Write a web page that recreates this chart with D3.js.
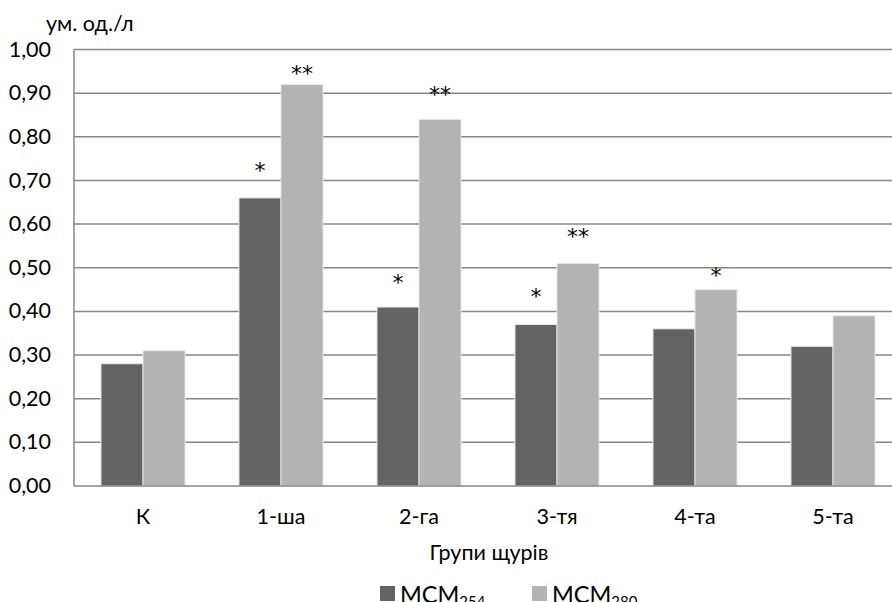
<!DOCTYPE html>
<html>
<head>
<meta charset="utf-8">
<script src="https://cdn.jsdelivr.net/npm/d3@7"></script>
<style>
  body { margin: 0; background: #fff; }
  text { font-family: Lato, "Noto Sans", sans-serif; fill: #000; }
</style>
</head>
<body>
<script>
// groups of rats and the two measured series
const groups = ["К", "1-ша", "2-га", "3-тя", "4-та", "5-та"];
const series = ["254", "280"];
const msm254 = [0.28, 0.66, 0.41, 0.37, 0.36, 0.32];
const msm280 = [0.31, 0.92, 0.84, 0.51, 0.45, 0.39];
const yTicks = [0, 0.1, 0.2, 0.3, 0.4, 0.5, 0.6, 0.7, 0.8, 0.9, 1.0];
// significance marks: group, series, text, level (value where the mark sits)
const marks = [
    ["1-ша", "254", "*", 0.733],
    ["1-ша", "280", "**", 0.955],
    ["2-га", "254", "*", 0.476],
    ["2-га", "280", "**", 0.907],
    ["3-тя", "254", "*", 0.444],
    ["3-тя", "280", "**", 0.583],
    ["4-та", "280", "*", 0.4925]
];
const colors = {"254": "#636363", "280": "#b3b3b3"};

const width = 892, height = 602;
const fs = 21.5;
const svg = d3.select("body").append("svg")
    .attr("width", width).attr("height", height);

const x = d3.scaleBand().domain(groups).range([74, 902])
    .paddingInner(0.391).paddingOuter(0.1955);
const xs = d3.scaleBand().domain(series).range([0, x.bandwidth()]);
const y = d3.scaleLinear().domain([0, 1]).range([486, 49.5]);

// grid
svg.append("g").selectAll("line")
    .data(yTicks.slice(1)).enter().append("line")
    .attr("x1", 74).attr("x2", width)
    .attr("y1", d => y(d)).attr("y2", d => y(d))
    .attr("stroke", "#878787").attr("stroke-width", 1.5);

// bars
const rows = groups.map((g, i) => ({g: g, vals: [msm254[i], msm280[i]]}));
svg.append("g").selectAll("g")
    .data(rows).enter().append("g")
    .attr("transform", d => "translate(" + x(d.g) + ",0)")
    .selectAll("rect")
    .data(d => d.vals.map((v, j) => ({s: series[j], v: v}))).enter()
    .append("rect")
    .attr("x", d => xs(d.s)).attr("width", xs.bandwidth())
    .attr("y", d => y(d.v)).attr("height", d => y(0) - y(d.v))
    .attr("fill", d => colors[d.s])
    .attr("stroke", "#e8e8e8").attr("stroke-width", 1);

// axis lines
svg.append("line").attr("x1", 74).attr("x2", 74)
    .attr("y1", y(1)).attr("y2", y(0))
    .attr("stroke", "#878787").attr("stroke-width", 1.5);
svg.append("line").attr("x1", 74).attr("x2", width)
    .attr("y1", y(0)).attr("y2", y(0))
    .attr("stroke", "#878787").attr("stroke-width", 1.5);

// y labels
svg.append("g").selectAll("text")
    .data(yTicks).enter().append("text")
    .attr("x", 51).attr("y", d => y(d))
    .attr("dy", "0.33em").attr("text-anchor", "end")
    .attr("font-size", fs)
    .text(d => d3.format(".2f")(d).replace(".", ","));

// x labels
svg.append("g").selectAll("text")
    .data(groups).enter().append("text")
    .attr("x", d => x(d) + x.bandwidth() / 2).attr("y", 524)
    .attr("text-anchor", "middle").attr("font-size", fs)
    .text(d => d);

// marks
svg.append("g").selectAll("text")
    .data(marks).enter().append("text")
    .attr("x", d => x(d[0]) + xs(d[1]) + xs.bandwidth() / 2)
    .attr("y", d => y(d[3]) + 12)
    .attr("text-anchor", "middle").attr("font-size", 22)
    .style("font-family", "'DejaVu Sans', sans-serif")
    .text(d => d[2]);

// titles
svg.append("text").attr("x", 46).attr("y", 31)
    .attr("font-size", fs).text("ум. од./л");
svg.append("text").attr("x", 489).attr("y", 560)
    .attr("text-anchor", "middle").attr("font-size", fs)
    .text("Групи щурів");

// legend
const legX = [380, 532];
const leg = svg.append("g").selectAll("g")
    .data(series).enter().append("g")
    .attr("transform", (d, i) => "translate(" + legX[i] + ",586)");
leg.append("rect").attr("width", 15).attr("height", 15)
    .attr("fill", d => colors[d]);
leg.append("text").attr("x", 20).attr("y", 16.5)
    .attr("font-size", 23.5)
    .text("МСМ")
    .append("tspan").attr("font-size", 15).attr("dy", 4)
    .text(d => d);
</script>
</body>
</html>
